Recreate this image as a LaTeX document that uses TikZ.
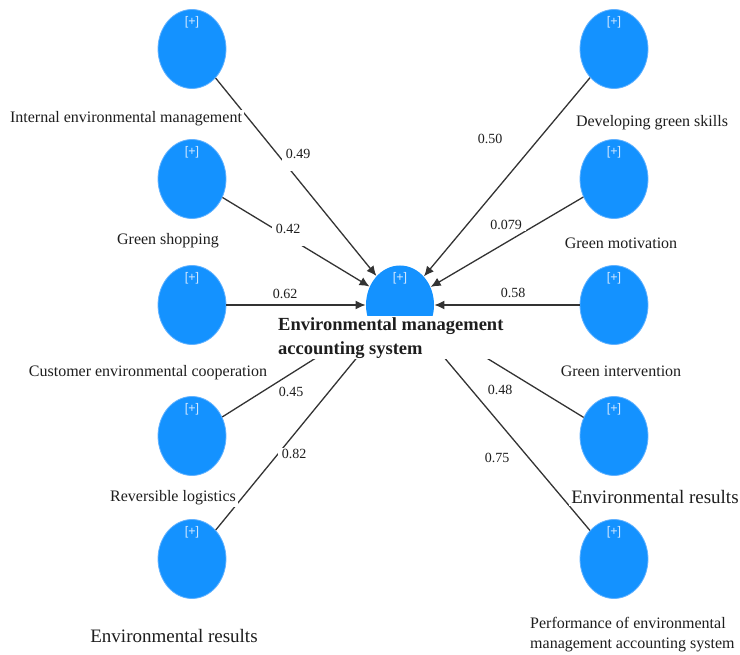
\documentclass[tikz,border=0pt]{standalone}
\usepackage{fontspec}
\setmainfont{Liberation Serif}
\setsansfont{Liberation Sans}
\usepackage{xcolor}
\usetikzlibrary{shapes.geometric,arrows.meta}
\definecolor{plsBlue}{HTML}{1492FF}
\definecolor{plsEdge}{HTML}{62B2FF}
\definecolor{plsPlus}{HTML}{D2E8FF}
\definecolor{plsLine}{HTML}{333333}
\definecolor{plsText}{HTML}{1E1E1E}

\begin{document}
\begin{tikzpicture}[x=1pt, y=-1pt,
            latent/.style={ellipse, fill=plsBlue, draw=plsEdge, line width=0.8pt, minimum width=68pt, minimum height=79pt, inner sep=0pt, label={[plus]north:{[+]}}},
            plus/.style={anchor=north, yshift=-7pt, inner sep=0pt, text=plsPlus, font=\sffamily\fontsize{12.5}{12.5}\selectfont},
            link/.style={draw=plsLine, line width=1.3pt},
            arrowed/.style={link, -{Latex[length=10pt, width=9pt]}},
            lbl/.style={fill=white, inner sep=2pt, text=plsText, font=\fontsize{16}{20}\selectfont},
            bigLbl/.style={lbl, font=\fontsize{19}{23}\selectfont},
            coef/.style={fill=white, inner xsep=4pt, inner ysep=1pt, text=plsText, font=\fontsize{14}{14}\selectfont},
            coefDeep/.style={coef, text height=10pt, text depth=11pt}]
    \useasboundingbox (0,0) rectangle (740,655);
    % constructs
    \node[latent] (iem) at (192,49) {};
    \node[latent] (gsh) at (192,179) {};
    \node[latent] (cec) at (192,305) {};
    \node[latent] (rlg) at (192,436) {};
    \node[latent] (erl) at (192,559) {};
    \node[latent] (dgs) at (614,49) {};
    \node[latent] (gmo) at (614,179) {};
    \node[latent] (gin) at (614,305) {};
    \node[latent] (err) at (614,436) {};
    \node[latent] (pem) at (614,559) {};
    \node[latent, fill=white, draw=none, path picture={\fill[plsBlue] (path picture bounding box.north west) rectangle ([yshift=-11pt]path picture bounding box.east);}] (ems) at (400,305) {};
    % paths
    \draw[arrowed] (iem) -- (ems);
    \draw[arrowed] (gsh) -- (ems);
    \draw[arrowed] (cec) -- (ems);
    \draw[arrowed] (dgs) -- (ems);
    \draw[arrowed] (gmo) -- (ems);
    \draw[arrowed] (gin) -- (ems);
    \draw[link] (ems) -- (rlg);
    \draw[link] (ems) -- (erl);
    \draw[link] (ems) -- (err);
    \draw[link] (ems) -- (pem);
    % coefficients
    \node[coefDeep, anchor=base] (c1) at (298,159) {0.49};
    \node[coefDeep, anchor=base] (c2) at (288,234) {0.42};
    \node[coef] (c3) at (285,294) {0.62};
    \node[coef] (c4) at (291,392) {0.45};
    \node[coef] (c5) at (294,454) {0.82};
    \node[coef] (c6) at (490,139) {0.50};
    \node[coef] (c7) at (506,225) {0.079};
    \node[coef] (c8) at (513,293) {0.58};
    \node[coef] (c9) at (500,390) {0.48};
    \node[coef] (c10) at (497,458) {0.75};
    % names
    \node[lbl] (iemText) at (126,119) {Internal environmental management};
    \node[lbl] (gshText) at (168,241) {Green shopping};
    \node[lbl] (cecText) at (148,373) {Customer environmental cooperation};
    \node[lbl] (rlgText) at (173,498) {Reversible logistics};
    \node[bigLbl] (erlText) at (174,636) {Environmental results};
    \node[lbl] (dgsText) at (652,123) {Developing green skills};
    \node[lbl] (gmoText) at (621,243) {Green motivation};
    \node[lbl] (ginText) at (621,371) {Green intervention};
    \node[bigLbl] (errText) at (655,497) {Environmental results};
    \node[lbl, anchor=west, align=left, inner sep=0pt] (pemText) at (530,635) {Performance of environmental\\management accounting system};
    \node[lbl, anchor=west, align=left, inner ysep=1pt, inner xsep=0pt, font=\bfseries\fontsize{18.5}{24}\selectfont] (emsText) at (278,338) {Environmental management\\accounting system};
\end{tikzpicture}
\end{document}
